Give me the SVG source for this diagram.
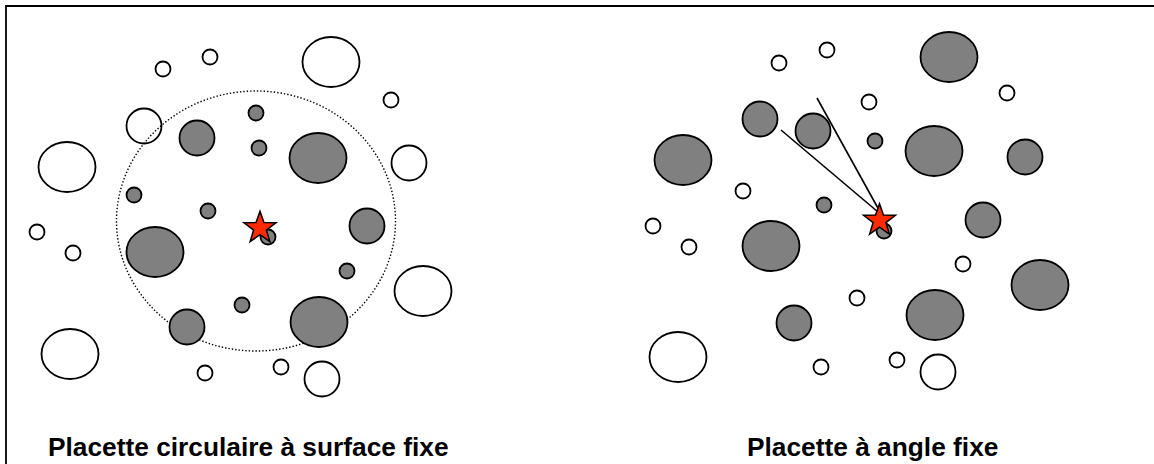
<svg xmlns="http://www.w3.org/2000/svg" width="1154" height="464" viewBox="0 0 1154 464">
<style>
.w{fill:#ffffff;stroke:#000;stroke-width:1.8}
.g{fill:#808080;stroke:#000;stroke-width:1.8}
.star{fill:#ff2a00;stroke:#000;stroke-width:1.5;stroke-linejoin:miter}
.dot{fill:none;stroke:#000;stroke-width:1.4;stroke-dasharray:1.4 2}
.ln{stroke:#000;stroke-width:1.6;fill:none}
.lbl{font-family:"Liberation Sans",Arial,sans-serif;font-weight:bold;font-size:26.3px;fill:#000}
</style>
<defs>
<polygon id="starShape" points="0,-16.8 3.95,-5.44 15.98,-5.19 6.39,2.08 9.88,13.59 0,6.72 -9.88,13.59 -6.39,2.08 -15.98,-5.19 -3.95,-5.44"/>
</defs>
<rect x="0" y="0" width="1154" height="464" fill="#fff"/>
<g id="frame">
<path d="M6,464 V6 H1154" fill="none" stroke="#000" stroke-width="1.8"/>
</g>

<g id="panel-left">
<g id="left-white">
<circle class="w" cx="163" cy="69" r="7.5"/>
<circle class="w" cx="210" cy="57" r="7.5"/>
<ellipse class="w" cx="331" cy="62" rx="28.5" ry="25"/>
<circle class="w" cx="391" cy="100" r="7.5"/>
<circle class="w" cx="144" cy="126" r="17.5"/>
<circle class="w" cx="409" cy="163" r="17.5"/>
<ellipse class="w" cx="67" cy="167" rx="28.5" ry="25"/>
<circle class="w" cx="37" cy="232" r="7.5"/>
<circle class="w" cx="73" cy="253" r="7.5"/>
<ellipse class="w" cx="423" cy="291" rx="28.5" ry="25"/>
<ellipse class="w" cx="70" cy="354" rx="28.5" ry="25"/>
<circle class="w" cx="205" cy="373" r="7.5"/>
<circle class="w" cx="281" cy="367" r="7.5"/>
<circle class="w" cx="322" cy="379" r="17.5"/>
</g>
<g id="plot-circle">
<ellipse class="dot" cx="256" cy="221" rx="139.5" ry="130"/>
</g>
<g id="left-grey">
<circle class="g" cx="197" cy="138" r="17.5"/>
<circle class="g" cx="256" cy="113" r="7.5"/>
<circle class="g" cx="259" cy="148" r="7.5"/>
<ellipse class="g" cx="318" cy="158" rx="28.5" ry="25"/>
<circle class="g" cx="134" cy="195" r="7.5"/>
<circle class="g" cx="208" cy="211" r="7.5"/>
<circle class="g" cx="367" cy="226" r="17.5"/>
<circle class="g" cx="268" cy="237" r="7.5"/>
<ellipse class="g" cx="155" cy="252" rx="28.5" ry="25"/>
<circle class="g" cx="347" cy="271" r="7.5"/>
<circle class="g" cx="242" cy="305" r="7.5"/>
<circle class="g" cx="187" cy="327" r="17.5"/>
<ellipse class="g" cx="319" cy="322" rx="28.5" ry="25"/>
</g>
<g id="left-center">
<use href="#starShape" class="star" x="260" y="228"/>
</g>
<g id="left-label">
<text class="lbl" x="48" y="456">Placette circulaire à surface fixe</text>
</g>
</g>

<g id="panel-right">
<g id="right-white">
<circle class="w" cx="779" cy="63" r="7.5"/>
<circle class="w" cx="827" cy="50" r="7.5"/>
<circle class="w" cx="1007" cy="93" r="7.5"/>
<circle class="w" cx="869" cy="102" r="7.5"/>
<circle class="w" cx="743" cy="191" r="7.5"/>
<circle class="w" cx="653" cy="226" r="7.5"/>
<circle class="w" cx="689" cy="247" r="7.5"/>
<circle class="w" cx="963" cy="264" r="7.5"/>
<circle class="w" cx="857" cy="298" r="7.5"/>
<ellipse class="w" cx="678" cy="357" rx="28.5" ry="25"/>
<circle class="w" cx="821" cy="367" r="7.5"/>
<circle class="w" cx="897" cy="360" r="7.5"/>
<circle class="w" cx="938" cy="372" r="17.5"/>
</g>
<g id="right-grey">
<ellipse class="g" cx="949" cy="57" rx="28.5" ry="25"/>
<circle class="g" cx="760" cy="119" r="17.5"/>
<circle class="g" cx="813" cy="131" r="17.5"/>
<circle class="g" cx="875" cy="141" r="7.5"/>
<ellipse class="g" cx="934" cy="151" rx="28.5" ry="25"/>
<circle class="g" cx="1025" cy="157" r="17.5"/>
<ellipse class="g" cx="683" cy="160" rx="28.5" ry="25"/>
<circle class="g" cx="824" cy="205" r="7.5"/>
<circle class="g" cx="884" cy="231" r="7.5"/>
<circle class="g" cx="983" cy="220" r="17.5"/>
<ellipse class="g" cx="771" cy="246" rx="28.5" ry="25"/>
<ellipse class="g" cx="1040" cy="285" rx="28.5" ry="25"/>
<ellipse class="g" cx="935" cy="315" rx="28.5" ry="25"/>
<circle class="g" cx="794" cy="323" r="17.5"/>
</g>
<g id="connectors">
<line class="ln" x1="817" y1="98" x2="879" y2="210"/>
<line class="ln" x1="781" y1="130" x2="878" y2="212"/>
</g>
<g id="right-center">
<use href="#starShape" class="star" x="879.5" y="220.5"/>
</g>
<g id="right-label">
<text class="lbl" x="747" y="456">Placette à angle fixe</text>
</g>
</g>
</svg>
